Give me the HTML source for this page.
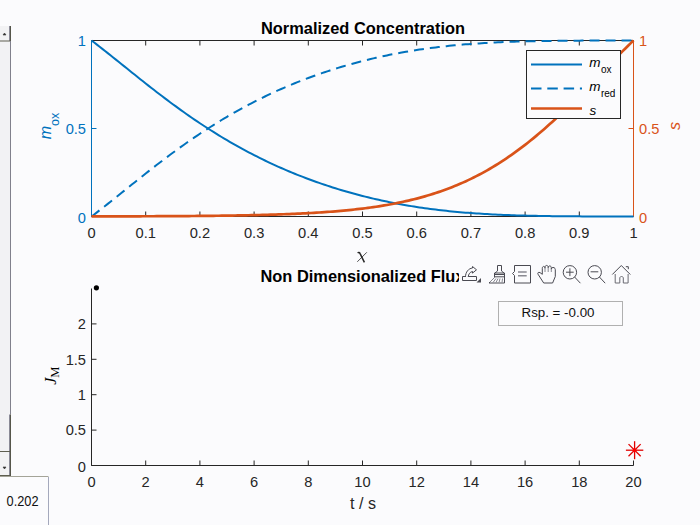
<!DOCTYPE html><html><head><meta charset="utf-8"><style>
html,body{margin:0;padding:0;background:#fbfbfd;overflow:hidden}svg{display:block}
text{font-family:"Liberation Sans",sans-serif;}
</style></head><body>
<svg width="700" height="525" viewBox="0 0 700 525">
<rect width="700" height="525" fill="#fbfbfd"/>
<g stroke="#262626" stroke-width="1" fill="none">
<path d="M91.5,40.5 H633.5"/>
<path d="M91.5,216.5 H633.5"/>
<path d="M91.5,216.5 v-5 M91.5,40.5 v5"/>
<path d="M145.7,216.5 v-5 M145.7,40.5 v5"/>
<path d="M199.9,216.5 v-5 M199.9,40.5 v5"/>
<path d="M254.1,216.5 v-5 M254.1,40.5 v5"/>
<path d="M308.3,216.5 v-5 M308.3,40.5 v5"/>
<path d="M362.5,216.5 v-5 M362.5,40.5 v5"/>
<path d="M416.7,216.5 v-5 M416.7,40.5 v5"/>
<path d="M470.9,216.5 v-5 M470.9,40.5 v5"/>
<path d="M525.1,216.5 v-5 M525.1,40.5 v5"/>
<path d="M579.3,216.5 v-5 M579.3,40.5 v5"/>
<path d="M633.5,216.5 v-5 M633.5,40.5 v5"/>
</g>
<path d="M91.5,216.5 V40.5 M91.5,128.5 h5" stroke="#0072bd" fill="none"/>
<path d="M633.5,216.5 V40.5 M633.5,128.5 h-5" stroke="#d95319" fill="none"/>
<path d="M91.50,40.50 L94.21,42.56 L96.92,44.64 L99.63,46.74 L102.34,48.85 L105.05,50.98 L107.76,53.12 L110.47,55.28 L113.18,57.44 L115.89,59.61 L118.60,61.78 L121.31,63.96 L124.02,66.14 L126.73,68.32 L129.44,70.50 L132.15,72.67 L134.86,74.84 L137.57,77.01 L140.28,79.17 L142.99,81.32 L145.70,83.46 L148.41,85.59 L151.12,87.71 L153.83,89.82 L156.54,91.92 L159.25,94.00 L161.96,96.07 L164.67,98.13 L167.38,100.16 L170.09,102.19 L172.80,104.19 L175.51,106.18 L178.22,108.15 L180.93,110.10 L183.64,112.03 L186.35,113.95 L189.06,115.84 L191.77,117.71 L194.48,119.57 L197.19,121.40 L199.90,123.22 L202.61,125.01 L205.32,126.78 L208.03,128.53 L210.74,130.27 L213.45,131.97 L216.16,133.66 L218.87,135.33 L221.58,136.98 L224.29,138.60 L227.00,140.21 L229.71,141.79 L232.42,143.35 L235.13,144.90 L237.84,146.42 L240.55,147.92 L243.26,149.40 L245.97,150.85 L248.68,152.29 L251.39,153.71 L254.10,155.11 L256.81,156.48 L259.52,157.84 L262.23,159.18 L264.94,160.49 L267.65,161.79 L270.36,163.07 L273.07,164.33 L275.78,165.57 L278.49,166.79 L281.20,167.99 L283.91,169.17 L286.62,170.34 L289.33,171.48 L292.04,172.61 L294.75,173.72 L297.46,174.81 L300.17,175.89 L302.88,176.94 L305.59,177.98 L308.30,179.00 L311.01,180.00 L313.72,180.99 L316.43,181.96 L319.14,182.91 L321.85,183.85 L324.56,184.77 L327.27,185.67 L329.98,186.56 L332.69,187.43 L335.40,188.28 L338.11,189.12 L340.82,189.94 L343.53,190.75 L346.24,191.54 L348.95,192.32 L351.66,193.08 L354.37,193.82 L357.08,194.55 L359.79,195.27 L362.50,195.96 L365.21,196.65 L367.92,197.32 L370.63,197.97 L373.34,198.62 L376.05,199.24 L378.76,199.85 L381.47,200.45 L384.18,201.03 L386.89,201.60 L389.60,202.16 L392.31,202.70 L395.02,203.23 L397.73,203.75 L400.44,204.25 L403.15,204.74 L405.86,205.21 L408.57,205.67 L411.28,206.12 L413.99,206.56 L416.70,206.98 L419.41,207.39 L422.12,207.79 L424.83,208.18 L427.54,208.55 L430.25,208.92 L432.96,209.27 L435.67,209.61 L438.38,209.94 L441.09,210.25 L443.80,210.56 L446.51,210.85 L449.22,211.14 L451.93,211.41 L454.64,211.68 L457.35,211.93 L460.06,212.17 L462.77,212.41 L465.48,212.63 L468.19,212.85 L470.90,213.06 L473.61,213.25 L476.32,213.44 L479.03,213.62 L481.74,213.80 L484.45,213.96 L487.16,214.12 L489.87,214.27 L492.58,214.41 L495.29,214.54 L498.00,214.67 L500.71,214.79 L503.42,214.91 L506.13,215.02 L508.84,215.12 L511.55,215.22 L514.26,215.31 L516.97,215.39 L519.68,215.47 L522.39,215.55 L525.10,215.62 L527.81,215.69 L530.52,215.75 L533.23,215.81 L535.94,215.87 L538.65,215.92 L541.36,215.97 L544.07,216.01 L546.78,216.05 L549.49,216.09 L552.20,216.13 L554.91,216.16 L557.62,216.19 L560.33,216.22 L563.04,216.24 L565.75,216.27 L568.46,216.29 L571.17,216.31 L573.88,216.33 L576.59,216.35 L579.30,216.36 L582.01,216.38 L584.72,216.39 L587.43,216.40 L590.14,216.41 L592.85,216.42 L595.56,216.43 L598.27,216.44 L600.98,216.44 L603.69,216.45 L606.40,216.46 L609.11,216.46 L611.82,216.47 L614.53,216.47 L617.24,216.47 L619.95,216.48 L622.66,216.48 L625.37,216.48 L628.08,216.48 L630.79,216.49 L633.50,216.49" fill="none" stroke="#0072bd" stroke-width="2"/>
<path d="M91.50,216.50 L94.21,214.44 L96.92,212.36 L99.63,210.26 L102.34,208.15 L105.05,206.02 L107.76,203.88 L110.47,201.72 L113.18,199.56 L115.89,197.39 L118.60,195.22 L121.31,193.04 L124.02,190.86 L126.73,188.68 L129.44,186.50 L132.15,184.33 L134.86,182.16 L137.57,179.99 L140.28,177.83 L142.99,175.68 L145.70,173.54 L148.41,171.41 L151.12,169.29 L153.83,167.18 L156.54,165.08 L159.25,163.00 L161.96,160.93 L164.67,158.87 L167.38,156.84 L170.09,154.81 L172.80,152.81 L175.51,150.82 L178.22,148.85 L180.93,146.90 L183.64,144.97 L186.35,143.05 L189.06,141.16 L191.77,139.29 L194.48,137.43 L197.19,135.60 L199.90,133.78 L202.61,131.99 L205.32,130.22 L208.03,128.47 L210.74,126.73 L213.45,125.03 L216.16,123.34 L218.87,121.67 L221.58,120.02 L224.29,118.40 L227.00,116.79 L229.71,115.21 L232.42,113.65 L235.13,112.10 L237.84,110.58 L240.55,109.08 L243.26,107.60 L245.97,106.15 L248.68,104.71 L251.39,103.29 L254.10,101.89 L256.81,100.52 L259.52,99.16 L262.23,97.82 L264.94,96.51 L267.65,95.21 L270.36,93.93 L273.07,92.67 L275.78,91.43 L278.49,90.21 L281.20,89.01 L283.91,87.83 L286.62,86.66 L289.33,85.52 L292.04,84.39 L294.75,83.28 L297.46,82.19 L300.17,81.11 L302.88,80.06 L305.59,79.02 L308.30,78.00 L311.01,77.00 L313.72,76.01 L316.43,75.04 L319.14,74.09 L321.85,73.15 L324.56,72.23 L327.27,71.33 L329.98,70.44 L332.69,69.57 L335.40,68.72 L338.11,67.88 L340.82,67.06 L343.53,66.25 L346.24,65.46 L348.95,64.68 L351.66,63.92 L354.37,63.18 L357.08,62.45 L359.79,61.73 L362.50,61.04 L365.21,60.35 L367.92,59.68 L370.63,59.03 L373.34,58.38 L376.05,57.76 L378.76,57.15 L381.47,56.55 L384.18,55.97 L386.89,55.40 L389.60,54.84 L392.31,54.30 L395.02,53.77 L397.73,53.25 L400.44,52.75 L403.15,52.26 L405.86,51.79 L408.57,51.33 L411.28,50.88 L413.99,50.44 L416.70,50.02 L419.41,49.61 L422.12,49.21 L424.83,48.82 L427.54,48.45 L430.25,48.08 L432.96,47.73 L435.67,47.39 L438.38,47.06 L441.09,46.75 L443.80,46.44 L446.51,46.15 L449.22,45.86 L451.93,45.59 L454.64,45.32 L457.35,45.07 L460.06,44.83 L462.77,44.59 L465.48,44.37 L468.19,44.15 L470.90,43.94 L473.61,43.75 L476.32,43.56 L479.03,43.38 L481.74,43.20 L484.45,43.04 L487.16,42.88 L489.87,42.73 L492.58,42.59 L495.29,42.46 L498.00,42.33 L500.71,42.21 L503.42,42.09 L506.13,41.98 L508.84,41.88 L511.55,41.78 L514.26,41.69 L516.97,41.61 L519.68,41.53 L522.39,41.45 L525.10,41.38 L527.81,41.31 L530.52,41.25 L533.23,41.19 L535.94,41.13 L538.65,41.08 L541.36,41.03 L544.07,40.99 L546.78,40.95 L549.49,40.91 L552.20,40.87 L554.91,40.84 L557.62,40.81 L560.33,40.78 L563.04,40.76 L565.75,40.73 L568.46,40.71 L571.17,40.69 L573.88,40.67 L576.59,40.65 L579.30,40.64 L582.01,40.62 L584.72,40.61 L587.43,40.60 L590.14,40.59 L592.85,40.58 L595.56,40.57 L598.27,40.56 L600.98,40.56 L603.69,40.55 L606.40,40.54 L609.11,40.54 L611.82,40.53 L614.53,40.53 L617.24,40.53 L619.95,40.52 L622.66,40.52 L625.37,40.52 L628.08,40.52 L630.79,40.51 L633.50,40.51" fill="none" stroke="#0072bd" stroke-width="2" stroke-dasharray="10,6"/>
<path d="M91.50,216.40 L94.21,216.39 L96.92,216.39 L99.63,216.38 L102.34,216.38 L105.05,216.37 L107.76,216.37 L110.47,216.36 L113.18,216.36 L115.89,216.35 L118.60,216.34 L121.31,216.34 L124.02,216.33 L126.73,216.32 L129.44,216.32 L132.15,216.31 L134.86,216.30 L137.57,216.29 L140.28,216.28 L142.99,216.27 L145.70,216.26 L148.41,216.25 L151.12,216.24 L153.83,216.23 L156.54,216.22 L159.25,216.21 L161.96,216.19 L164.67,216.18 L167.38,216.17 L170.09,216.15 L172.80,216.14 L175.51,216.12 L178.22,216.10 L180.93,216.09 L183.64,216.07 L186.35,216.05 L189.06,216.03 L191.77,216.01 L194.48,215.98 L197.19,215.96 L199.90,215.94 L202.61,215.91 L205.32,215.89 L208.03,215.86 L210.74,215.83 L213.45,215.80 L216.16,215.77 L218.87,215.73 L221.58,215.70 L224.29,215.66 L227.00,215.62 L229.71,215.58 L232.42,215.54 L235.13,215.50 L237.84,215.45 L240.55,215.40 L243.26,215.35 L245.97,215.30 L248.68,215.25 L251.39,215.19 L254.10,215.13 L256.81,215.07 L259.52,215.00 L262.23,214.93 L264.94,214.86 L267.65,214.78 L270.36,214.71 L273.07,214.62 L275.78,214.54 L278.49,214.45 L281.20,214.35 L283.91,214.26 L286.62,214.16 L289.33,214.05 L292.04,213.94 L294.75,213.82 L297.46,213.70 L300.17,213.57 L302.88,213.44 L305.59,213.30 L308.30,213.16 L311.01,213.01 L313.72,212.85 L316.43,212.69 L319.14,212.52 L321.85,212.34 L324.56,212.15 L327.27,211.96 L329.98,211.76 L332.69,211.55 L335.40,211.33 L338.11,211.10 L340.82,210.86 L343.53,210.61 L346.24,210.35 L348.95,210.08 L351.66,209.80 L354.37,209.51 L357.08,209.21 L359.79,208.89 L362.50,208.56 L365.21,208.22 L367.92,207.87 L370.63,207.50 L373.34,207.11 L376.05,206.72 L378.76,206.30 L381.47,205.87 L384.18,205.42 L386.89,204.96 L389.60,204.48 L392.31,203.98 L395.02,203.46 L397.73,202.92 L400.44,202.37 L403.15,201.79 L405.86,201.19 L408.57,200.57 L411.28,199.92 L413.99,199.26 L416.70,198.57 L419.41,197.86 L422.12,197.12 L424.83,196.35 L427.54,195.56 L430.25,194.75 L432.96,193.90 L435.67,193.03 L438.38,192.13 L441.09,191.20 L443.80,190.24 L446.51,189.25 L449.22,188.23 L451.93,187.17 L454.64,186.09 L457.35,184.97 L460.06,183.82 L462.77,182.63 L465.48,181.41 L468.19,180.15 L470.90,178.86 L473.61,177.53 L476.32,176.16 L479.03,174.76 L481.74,173.32 L484.45,171.83 L487.16,170.32 L489.87,168.76 L492.58,167.16 L495.29,165.52 L498.00,163.84 L500.71,162.13 L503.42,160.37 L506.13,158.57 L508.84,156.73 L511.55,154.85 L514.26,152.93 L516.97,150.96 L519.68,148.96 L522.39,146.92 L525.10,144.83 L527.81,142.71 L530.52,140.55 L533.23,138.35 L535.94,136.11 L538.65,133.83 L541.36,131.51 L544.07,129.16 L546.78,126.77 L549.49,124.34 L552.20,121.89 L554.91,119.39 L557.62,116.87 L560.33,114.32 L563.04,111.73 L565.75,109.12 L568.46,106.48 L571.17,103.82 L573.88,101.13 L576.59,98.43 L579.30,95.70 L582.01,92.95 L584.72,90.19 L587.43,87.41 L590.14,84.62 L592.85,81.83 L595.56,79.02 L598.27,76.21 L600.98,73.40 L603.69,70.59 L606.40,67.78 L609.11,64.98 L611.82,62.19 L614.53,59.40 L617.24,56.64 L619.95,53.88 L622.66,51.15 L625.37,48.45 L628.08,45.77 L630.79,43.12 L633.50,40.50" fill="none" stroke="#d95319" stroke-width="2.7"/>
<g font-size="14.67" fill="#262626" text-anchor="middle">
<text x="91.5" y="237.5">0</text>
<text x="145.7" y="237.5">0.1</text>
<text x="199.9" y="237.5">0.2</text>
<text x="254.1" y="237.5">0.3</text>
<text x="308.3" y="237.5">0.4</text>
<text x="362.5" y="237.5">0.5</text>
<text x="416.7" y="237.5">0.6</text>
<text x="470.9" y="237.5">0.7</text>
<text x="525.1" y="237.5">0.8</text>
<text x="579.3" y="237.5">0.9</text>
<text x="633.5" y="237.5">1</text>
</g>
<g font-size="14.67" fill="#0072bd" text-anchor="end">
<text x="86" y="45.8">1</text>
<text x="86" y="133.8">0.5</text>
<text x="86" y="222.6">0</text>
</g>
<g font-size="14.67" fill="#d95319" text-anchor="start">
<text x="639" y="45.8">1</text>
<text x="639" y="133.8">0.5</text>
<text x="639" y="222.6">0</text>
</g>
<text x="363" y="34" font-size="16.4" font-weight="bold" fill="#000" text-anchor="middle">Normalized Concentration</text>
<text transform="translate(51,139.3) rotate(-90)" font-size="16.13" fill="#0072bd"><tspan font-style="italic">m</tspan><tspan font-size="12.5" dy="7.6">ox</tspan></text>
<text transform="translate(680,130) rotate(-90)" font-size="16.13" fill="#d95319" font-style="italic">s</text>
<path d="M357.6,252.9 C358.6,252.2 359.6,252.4 360.1,253.6 L364.4,262.3" stroke="#262626" stroke-width="1.5" fill="none"/>
<path d="M357.3,261.8 L366.8,252.3" stroke="#262626" stroke-width="0.8" fill="none"/>
<rect x="526.5" y="50.5" width="94" height="68" fill="#fbfbfd" stroke="#262626" stroke-width="1"/>
<path d="M531,64.5 H582" stroke="#0072bd" stroke-width="2"/>
<path d="M531,88.5 H582" stroke="#0072bd" stroke-width="2" stroke-dasharray="10.5,5.8"/>
<path d="M531,108.5 H582" stroke="#d95319" stroke-width="2.7"/>
<g font-size="13.50" fill="#000">
<text x="589.3" y="67.3"><tspan font-style="italic">m</tspan><tspan font-size="10" dx="0.4" dy="5.3">ox</tspan></text>
<text x="589.3" y="91.4"><tspan font-style="italic">m</tspan><tspan font-size="10" dx="0.4" dy="5.3">red</tspan></text>
<text x="589.5" y="114.8" font-style="italic">s</text>
</g>
<g stroke="#262626" stroke-width="1" fill="none">
<path d="M91.5,288.5 V465.5 H633.5"/>
<path d="M91.5,465.5 v-5"/>
<path d="M145.7,465.5 v-5"/>
<path d="M199.9,465.5 v-5"/>
<path d="M254.1,465.5 v-5"/>
<path d="M308.3,465.5 v-5"/>
<path d="M362.5,465.5 v-5"/>
<path d="M416.7,465.5 v-5"/>
<path d="M470.9,465.5 v-5"/>
<path d="M525.1,465.5 v-5"/>
<path d="M579.3,465.5 v-5"/>
<path d="M633.5,465.5 v-5"/>
<path d="M91.5,465.5 h5"/>
<path d="M91.5,430.1 h5"/>
<path d="M91.5,394.7 h5"/>
<path d="M91.5,359.3 h5"/>
<path d="M91.5,323.9 h5"/>
</g>
<g font-size="14.67" fill="#262626" text-anchor="middle">
<text x="91.5" y="486.5">0</text>
<text x="145.7" y="486.5">2</text>
<text x="199.9" y="486.5">4</text>
<text x="254.1" y="486.5">6</text>
<text x="308.3" y="486.5">8</text>
<text x="362.5" y="486.5">10</text>
<text x="416.7" y="486.5">12</text>
<text x="470.9" y="486.5">14</text>
<text x="525.1" y="486.5">16</text>
<text x="579.3" y="486.5">18</text>
<text x="633.5" y="486.5">20</text>
</g>
<g font-size="14.67" fill="#262626" text-anchor="end">
<text x="86" y="471.6">0</text>
<text x="86" y="435.4">0.5</text>
<text x="86" y="400.0">1</text>
<text x="86" y="364.6">1.5</text>
<text x="86" y="329.2">2</text>
</g>
<text x="363" y="509.2" font-size="16.13" fill="#262626" text-anchor="middle">t / s</text>
<text transform="translate(56,384.8) rotate(-90)" font-size="16" fill="#000" style="font-family:'Liberation Serif',serif"><tspan font-style="italic">J</tspan><tspan font-size="12.5" dy="3">M</tspan></text>
<text x="362.5" y="282" font-size="16.4" font-weight="bold" fill="#000" text-anchor="middle">Non Dimensionalized Flux</text>
<circle cx="96.4" cy="287.8" r="2.6" fill="#000"/>
<g stroke="#e00000" stroke-width="1.3">
<path d="M625.90,450.20 L643.30,450.20"/>
<path d="M628.52,444.12 L640.68,456.28"/>
<path d="M634.60,441.20 L634.60,459.20"/>
<path d="M640.68,444.12 L628.52,456.28"/>
</g>
<circle cx="634.6" cy="450.2" r="1.9" fill="#f00"/>
<rect x="498.5" y="301.5" width="124" height="24" fill="#fbfbfd" stroke="#b0b0b0"/>
<text x="558" y="316.8" font-size="13.33" fill="#111" text-anchor="middle">Rsp. = -0.00</text>
<rect x="459" y="262" width="176" height="24" fill="#fbfbfd"/>
<g fill="none" stroke="#4a4a52" stroke-width="1">
<path d="M462.5,276.5 h14 v4 h-14 z"/>
<path d="M465.5,277 c0,-5 3,-8.5 7,-9 v-1.5 l4,3.3 -4,3.3 v-1.6 c-2.5,0.5 -4,2.5 -4.3,5.5" fill="#fbfbfd"/>
<path d="M476.5,282.5 l4.5,-4.5 v4.5 z" fill="#4a4a52" stroke="none"/>
<path d="M497.5,265.5 h4 M497.5,265.5 v5.5 l-2.5,2 M501.5,265.5 v5.5 l2.5,2 M494.5,273 v4.5 l-5.5,5.5 h15.5 v-10 z M494.5,274.5 h10 M494.5,276.8 h10" />
<path d="M490,282 l5,-5 M493,282.5 l3,-4 M496,282.5 l2,-4 M499,282.5 l1,-4 M502,282.5 l0.5,-4" stroke="#8a8a92"/>
<path d="M514.5,265.5 h16 v17.5 h-16 v-7.5 l-2,-2 2,-2 z"/>
<path d="M518,272 h8.7 M518,275.7 h8.7" stroke="#8a8a92" stroke-width="1.5"/>
<path d="M543.7,283 L538,274.2 C537.3,272.8 538.5,271.8 540,272.6 L542.3,274.3 V268.3 C542.3,265.8 545,265.8 545,268.3 V267.3 C545,264.8 548.2,264.8 548.2,267.3 V267.8 C548.2,265.3 551.3,265.3 551.3,267.8 V269.3 C551.3,266.8 555.3,266.8 555.3,269.6 V276.5 L552.6,283 Z"/>
<path d="M545,268.3 V272 M548.2,267.8 V272 M551.3,269.3 V272" stroke="#8a8a92"/>
<circle cx="569.9" cy="272.3" r="6.7"/><path d="M574.6,277 l5.8,6.2 M569.9,268.3 v7.8 M566,272.2 h7.7"/>
<circle cx="594.7" cy="272.3" r="6.7"/><path d="M599.4,277 l5.8,6.2 M590.6,271.8 h7.7"/>
<path d="M612.3,274.5 l9,-9 l9,9"/>
<path d="M625.8,266.7 h2.5 v2.5"/>
<path d="M615.2,274 v9 h4.6 v-5 c0,-2 3.5,-2 3.5,0 v5 h4.8 v-9" stroke="#6a6a72"/>
</g>
<rect x="0" y="26" width="10" height="450" fill="#f2f2f4"/>
<path d="M10.5,41 V414.5" stroke="#80808c" fill="none"/>
<path d="M9.5,26 V41 M9.5,414.5 V475" stroke="#8a8a96" fill="none"/>
<path d="M10.5,26 V41 M10.5,414.5 V476" stroke="#55554a" fill="none"/>
<path d="M0,41 H10 M0,451.5 H10 M0,475.5 H10" stroke="#5e5e50" fill="none"/>
<path d="M3,35 l1.5,-2 1.5,2 z" fill="#333" stroke="#333" stroke-width="0.6"/>
<path d="M3,467 l1.5,2 1.5,-2 z" fill="#333" stroke="#333" stroke-width="0.6"/>
<path d="M0,476.5 H48.5" stroke="#a4a498" fill="none"/>
<path d="M48.5,477 V525" stroke="#a4a8bc" fill="none"/>
<text transform="translate(6.6,506.2) scale(0.9,1)" font-size="14.2" fill="#111">0.202</text>
</svg></body></html>
